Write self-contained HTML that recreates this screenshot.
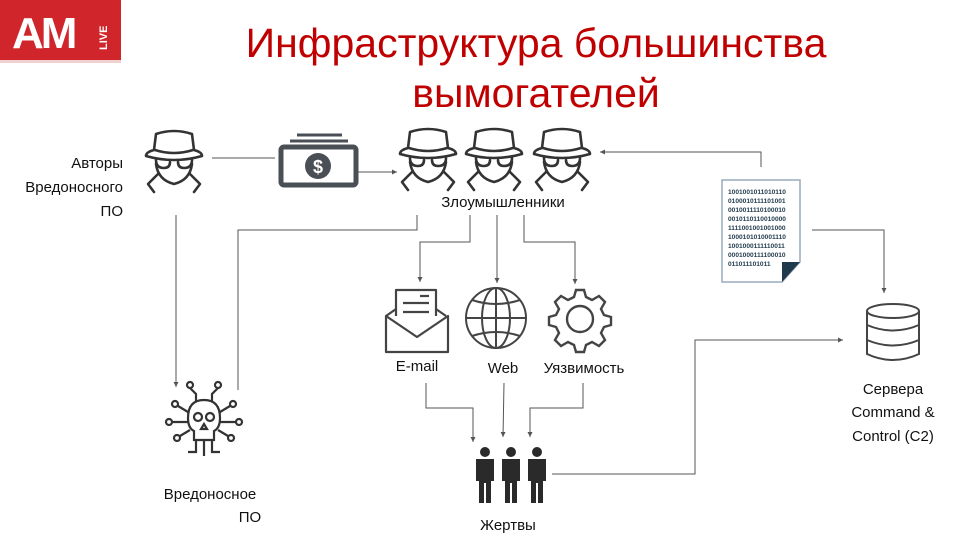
<!DOCTYPE html>
<html><head><meta charset="utf-8"><style>
html,body{margin:0;padding:0;background:#fff;}
svg{display:block;}
text{font-family:"Liberation Sans","DejaVu Sans",sans-serif;}
</style></head><body>
<svg width="960" height="540" viewBox="0 0 960 540" xmlns="http://www.w3.org/2000/svg">
<defs>
<marker id="a" markerWidth="6" markerHeight="6" refX="5" refY="3" orient="auto"><path d="M0,0.5 L5,3 L0,5.5z" fill="#555"/></marker>
<g id="hk" fill="none" stroke="#333" stroke-width="2.6" stroke-linejoin="round" stroke-linecap="round">
<path d="M12,4 Q30,-2 48,4 L50,20 Q58,22 58,26 Q30,34 2,26 Q2,22 10,20 Z"/>
<path d="M11,20 Q30,26 49,20"/>
<path d="M12,30 Q12,38 20,38 Q26,38 26,32 M34,32 Q34,38 40,38 Q48,38 48,30"/>
<path d="M12,34 Q14,50 30,54 Q46,50 48,34"/>
<path d="M14,44 L4,54 L10,62 M46,44 L56,54 L50,62"/>
</g>
</defs>

<!-- logo -->
<rect x="0" y="0" width="121" height="60" fill="#d0262b"/>
<rect x="0" y="60" width="121" height="3" fill="#f3d0d0"/>
<text x="12" y="48" font-size="44" font-weight="bold" fill="#fff" letter-spacing="-3">AM</text>
<text x="0" y="0" font-size="11" font-weight="bold" fill="#fff" transform="translate(107,50) rotate(-90)">LIVE</text>

<!-- title -->
<text x="536" y="57" font-size="41" fill="#c00000" text-anchor="middle">Инфраструктура большинства</text>
<text x="536" y="107" font-size="41" fill="#c00000" text-anchor="middle">вымогателей</text>

<!-- hackers -->
<use href="#hk" x="144" y="130"/>
<use href="#hk" x="398" y="128"/>
<use href="#hk" x="464" y="128"/>
<use href="#hk" x="532" y="128"/>

<!-- money -->
<g fill="none" stroke="#4a4f55">
<line x1="297" y1="135" x2="342" y2="135" stroke-width="3"/>
<line x1="290" y1="141" x2="348" y2="141" stroke-width="3"/>
<rect x="281" y="147" width="75" height="38" rx="3" stroke-width="5"/>
</g>
<circle cx="318" cy="166" r="13" fill="#4a4f55"/>
<text x="318" y="173" font-size="18" font-weight="bold" fill="#fff" text-anchor="middle">$</text>

<!-- left text -->
<g font-size="15" fill="#111" text-anchor="end">
<text x="123" y="168">Авторы</text>
<text x="123" y="192">Вредоносного</text>
<text x="123" y="216">ПО</text>
</g>
<text x="503" y="207" font-size="15" fill="#111" text-anchor="middle">Злоумышленники</text>

<!-- connectors -->
<g stroke="#555" stroke-width="1" fill="none">
<line x1="212" y1="158" x2="275" y2="158"/>
<line x1="357" y1="172" x2="397" y2="172" marker-end="url(#a)"/>
<polyline points="761,167 761,152 600,152" marker-end="url(#a)"/>
<line x1="176" y1="215" x2="176" y2="387" marker-end="url(#a)"/>
<polyline points="417,215 417,230 238,230 238,390"/>
<polyline points="470,215 470,242 420,242 420,282" marker-end="url(#a)"/>
<line x1="497" y1="215" x2="497" y2="283" marker-end="url(#a)"/>
<polyline points="524,215 524,242 575,242 575,284" marker-end="url(#a)"/>
<polyline points="426,383 426,408 473,408 473,442" marker-end="url(#a)"/>
<line x1="504" y1="383" x2="503" y2="437" marker-end="url(#a)"/>
<polyline points="583,383 583,408 530,408 530,437" marker-end="url(#a)"/>
<polyline points="552,474 695,474 695,340 843,340" marker-end="url(#a)"/>
<polyline points="812,230 884,230 884,293" marker-end="url(#a)"/>
</g>

<!-- email -->
<g fill="none" stroke="#444" stroke-width="2.2" stroke-linejoin="round">
<path d="M396,316 V290 H436 V316"/>
<path d="M386,316 L396,309 M446,316 L436,309"/>
<path d="M386,316 V352 H448 V316 L417,337 Z"/>
<line x1="403" y1="303" x2="429" y2="303"/><line x1="403" y1="312" x2="429" y2="312"/><line x1="420" y1="296" x2="429" y2="296"/>
</g>
<!-- globe -->
<g fill="none" stroke="#444" stroke-width="2">
<circle cx="496" cy="318" r="30"/>
<ellipse cx="496" cy="318" rx="14" ry="30"/>
<line x1="496" y1="288" x2="496" y2="348"/><line x1="466" y1="318" x2="526" y2="318"/>
<path d="M472,300 Q496,308 520,300 M472,336 Q496,328 520,336"/>
</g>
<!-- gear -->
<g fill="none" stroke="#444" stroke-width="2.4">
<path d="M576,290 h8 l2,7 l6,3 l7,-4 l6,6 l-4,7 l3,6 l7,2 v8 l-7,2 l-3,6 l4,7 l-6,6 l-7,-4 l-6,3 l-2,7 h-8 l-2,-7 l-6,-3 l-7,4 l-6,-6 l4,-7 l-3,-6 l-7,-2 v-8 l7,-2 l3,-6 l-4,-7 l6,-6 l7,4 l6,-3 z"/>
<circle cx="580" cy="319" r="13"/>
</g>
<g font-size="15" fill="#111" text-anchor="middle">
<text x="417" y="371">E-mail</text>
<text x="503" y="373">Web</text>
<text x="584" y="373">Уязвимость</text>
</g>

<!-- skull -->
<g fill="none" stroke="#333" stroke-width="2.2">
<path d="M188,418 Q188,400 204,400 Q220,400 220,418 Q220,428 214,431 V440 H194 V431 Q188,428 188,418Z"/>
<circle cx="198" cy="417" r="4"/><circle cx="210" cy="417" r="4"/>
<path d="M204,424 l-3,5 h6z"/>
<path d="M196,402 V394 L190,388 M212,402 V394 L218,388 M188,412 L178,406 M220,412 L230,406 M188,422 H172 M220,422 H236 M190,430 L180,436 M218,430 L228,436 M196,440 V452 H188 M212,440 V452 H220 M204,440 V456"/>
<circle cx="190" cy="385" r="3"/><circle cx="218" cy="385" r="3"/><circle cx="175" cy="404" r="3"/><circle cx="233" cy="404" r="3"/><circle cx="169" cy="422" r="3"/><circle cx="239" cy="422" r="3"/><circle cx="177" cy="438" r="3"/><circle cx="231" cy="438" r="3"/>
</g>
<text x="210" y="499" font-size="15" fill="#111" text-anchor="middle">Вредоносное</text>
<text x="250" y="522" font-size="15" fill="#111" text-anchor="middle">ПО</text>

<!-- people -->
<g fill="#2a2a2a">
<circle cx="485" cy="452" r="5"/><path d="M476,459 h18 v22 h-3 v22 h-5 v-20 h-2 v20 h-5 v-22 h-3z"/>
<circle cx="511" cy="452" r="5"/><path d="M502,459 h18 v22 h-3 v22 h-5 v-20 h-2 v20 h-5 v-22 h-3z"/>
<circle cx="537" cy="452" r="5"/><path d="M528,459 h18 v22 h-3 v22 h-5 v-20 h-2 v20 h-5 v-22 h-3z"/>
</g>
<text x="508" y="530" font-size="15" fill="#111" text-anchor="middle">Жертвы</text>

<!-- document -->
<path d="M722,180 H800 V262 L782,282 H722 Z" fill="#fff" stroke="#9ab" stroke-width="1.5"/>
<path d="M800,262 L782,282 V262 Z" fill="#1f3a4d"/>
<g font-family="Liberation Mono,monospace" font-size="6.6" fill="#1f3a4d" font-weight="bold">
<text x="728" y="194">1001001011010110</text>
<text x="728" y="203">0100010111101001</text>
<text x="728" y="212">0010011110100010</text>
<text x="728" y="221">0010110110010000</text>
<text x="728" y="230">1111001001001000</text>
<text x="728" y="239">1000101010001110</text>
<text x="728" y="248">1001000111110011</text>
<text x="728" y="257">0001000111100010</text>
<text x="728" y="266">011011101011</text>
</g>

<!-- database -->
<g fill="none" stroke="#444" stroke-width="2">
<ellipse cx="893" cy="311" rx="26" ry="7"/>
<path d="M867,311 V354 Q893,366 919,354 V311"/>
<path d="M867,325 Q893,336 919,325 M867,340 Q893,351 919,340"/>
</g>
<g font-size="15" fill="#111" text-anchor="middle">
<text x="893" y="394">Сервера</text>
<text x="893" y="417">Command &amp;</text>
<text x="893" y="441">Control (C2)</text>
</g>
</svg>
</body></html>
